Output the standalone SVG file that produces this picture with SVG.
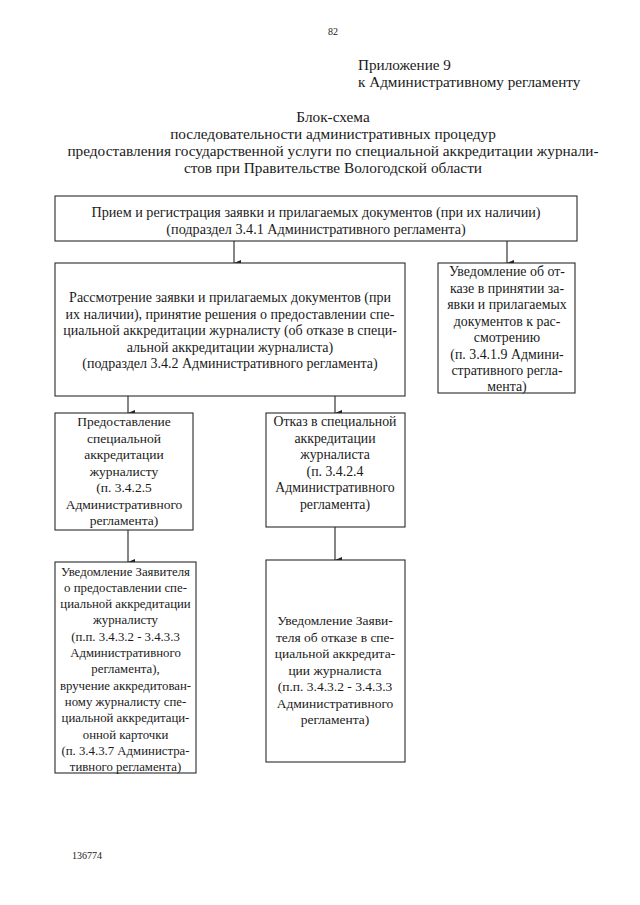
<svg xmlns="http://www.w3.org/2000/svg" width="640" height="905" viewBox="0 0 640 905">
<style>
text{font-family:"Liberation Serif","Times New Roman",serif;fill:#1a1a1a;}
.t{text-anchor:middle;}
.ti{font-size:15.3px;}
.h{font-size:15.2px;}
.s{font-size:10px;}
#n1 text{font-size:14.2px;}
#n2 text{font-size:14px;}
#n3 text{font-size:13.9px;}
#n4 text{font-size:13.5px;}
#n5 text{font-size:13.8px;}
#n6 text{font-size:12.8px;}
#n7 text{font-size:13.5px;}
rect{fill:#fff;stroke:#2a2a2a;stroke-width:1.1;}
.c line{stroke:#222;stroke-width:1.1;}
</style>
<defs>
<marker id="ah" markerUnits="userSpaceOnUse" markerWidth="8" markerHeight="8" viewBox="0 0 8 8" refX="4" refY="8" orient="auto-start-reverse">
<path d="M1,1 L7,1 L4,8 Z" fill="#222"/>
</marker>
</defs>
<rect x="0" y="0" width="640" height="905" style="stroke:none;fill:#fff"/>
<text class="s" x="333" y="35" text-anchor="middle">82</text>
<text class="h" x="358" y="70">Приложение 9</text>
<text class="h" x="358" y="87">к Административному регламенту</text>
<g id="title">
<text class="t ti" x="333" y="122">Блок-схема</text>
<text class="t ti" x="333" y="139">последовательности административных процедур</text>
<text class="t ti" x="333" y="156">предоставления государственной услуги по специальной аккредитации журнали-</text>
<text class="t ti" x="333" y="173">стов при Правительстве Вологодской области</text>
</g>
<g class="c" id="connectors">
<line x1="234" y1="241" x2="234" y2="263" marker-end="url(#ah)"/>
<line x1="507" y1="241" x2="507" y2="263" marker-end="url(#ah)"/>
<line x1="128" y1="396" x2="128" y2="413" marker-end="url(#ah)"/>
<line x1="335" y1="396" x2="335" y2="413" marker-end="url(#ah)"/>
<line x1="128" y1="530" x2="128" y2="562" marker-end="url(#ah)"/>
<line x1="335" y1="527" x2="335" y2="560" marker-end="url(#ah)"/>
</g>
<g id="n1">
<rect x="55" y="196" width="522" height="45"/>
<text class="t" x="316" y="217">Прием и регистрация заявки и прилагаемых документов (при их наличии)</text>
<text class="t" x="316" y="234">(подраздел 3.4.1 Административного регламента)</text>
</g>
<g id="n2">
<rect x="55" y="263" width="350" height="133"/>
<text class="t" x="230" y="302">Рассмотрение заявки и прилагаемых документов (при</text>
<text class="t" x="230" y="318.5">их наличии), принятие решения о предоставлении спе-</text>
<text class="t" x="230" y="335">циальной аккредитации журналисту (об отказе в специ-</text>
<text class="t" x="230" y="351.5">альной аккредитации журналиста)</text>
<text class="t" x="230" y="368">(подраздел 3.4.2 Административного регламента)</text>
</g>
<g id="n3">
<rect x="438" y="263" width="137" height="130"/>
<text class="t" x="507" y="276">Уведомление об от-</text>
<text class="t" x="507" y="292.5">казе в принятии за-</text>
<text class="t" x="507" y="309">явки и прилагаемых</text>
<text class="t" x="507" y="325.5">документов к рас-</text>
<text class="t" x="507" y="342">смотрению</text>
<text class="t" x="507" y="358.5">(п. 3.4.1.9 Админи-</text>
<text class="t" x="507" y="375">стративного регла-</text>
<text class="t" x="507" y="391">мента)</text>
</g>
<g id="n4">
<rect x="55" y="413" width="138" height="117"/>
<text class="t" x="124" y="426">Предоставление</text>
<text class="t" x="124" y="442.5">специальной</text>
<text class="t" x="124" y="459">аккредитации</text>
<text class="t" x="124" y="475.5">журналисту</text>
<text class="t" x="124" y="492">(п. 3.4.2.5</text>
<text class="t" x="124" y="508.5">Административного</text>
<text class="t" x="124" y="525">регламента)</text>
</g>
<g id="n5">
<rect x="266" y="413" width="139" height="114"/>
<text class="t" x="335" y="426">Отказ в специальной</text>
<text class="t" x="335" y="442.5">аккредитации</text>
<text class="t" x="335" y="459">журналиста</text>
<text class="t" x="335" y="475.5">(п. 3.4.2.4</text>
<text class="t" x="335" y="492">Административного</text>
<text class="t" x="335" y="508.5">регламента)</text>
</g>
<g id="n6">
<rect x="55" y="562" width="141" height="211"/>
<text class="t" x="125.5" y="575.5">Уведомление Заявителя</text>
<text class="t" x="125.5" y="591.8">о предоставлении спе-</text>
<text class="t" x="125.5" y="608.1">циальной аккредитации</text>
<text class="t" x="125.5" y="624.4">журналисту</text>
<text class="t" x="125.5" y="640.7">(п.п. 3.4.3.2 - 3.4.3.3</text>
<text class="t" x="125.5" y="657">Административного</text>
<text class="t" x="125.5" y="673.3">регламента),</text>
<text class="t" x="125.5" y="689.6">вручение аккредитован-</text>
<text class="t" x="125.5" y="705.9">ному журналисту спе-</text>
<text class="t" x="125.5" y="722.2">циальной аккредитаци-</text>
<text class="t" x="125.5" y="738.5">онной карточки</text>
<text class="t" x="125.5" y="754.8">(п. 3.4.3.7 Администра-</text>
<text class="t" x="125.5" y="771">тивного регламента)</text>
</g>
<g id="n7">
<rect x="266" y="560" width="139" height="202"/>
<text class="t" x="335" y="625">Уведомление Заяви-</text>
<text class="t" x="335" y="641.5">теля об отказе в спе-</text>
<text class="t" x="335" y="658">циальной аккредита-</text>
<text class="t" x="335" y="674.5">ции журналиста</text>
<text class="t" x="335" y="691">(п.п. 3.4.3.2 - 3.4.3.3</text>
<text class="t" x="335" y="707.5">Административного</text>
<text class="t" x="335" y="724">регламента)</text>
</g>
<text class="s" x="72" y="859">136774</text>
</svg>
